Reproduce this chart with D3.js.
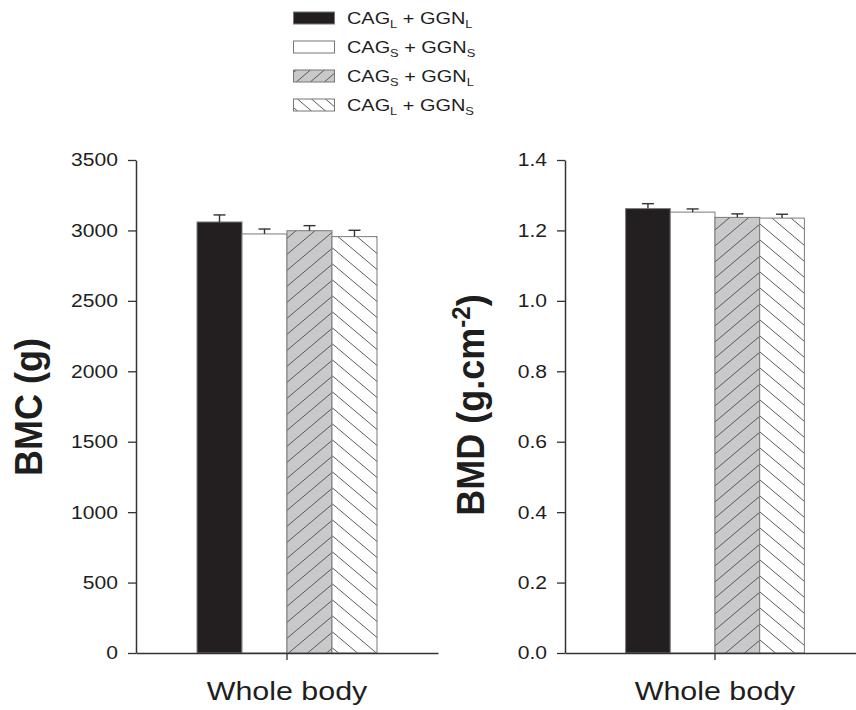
<!DOCTYPE html>
<html>
<head>
<meta charset="utf-8">
<script src="https://cdn.jsdelivr.net/npm/d3@7"></script>
<style>
  html, body { margin: 0; padding: 0; background: #fff; }
  svg { display: block; }
  text { font-family: "Liberation Sans", Arial, Helvetica, sans-serif; fill: #1e1e1e; }
</style>
</head>
<body>
<svg id="chart" width="856" height="710"></svg>
<script>
// Genotype groups (CAG / GGN repeat lengths, L = long, S = short)
const seriesKeys = ["LL", "SS", "SL", "LS"];
const seriesCAG  = ["L", "S", "S", "L"];
const seriesGGN  = ["L", "S", "L", "S"];
const categories = ["Whole body"];

// Bone mineral content (g), mean and SEM
const bmcValues = [3060, 2975, 2998, 2956];
const bmcErrors = [50, 35, 36, 45];
// Bone mineral density (g.cm-2), mean and SEM
const bmdValues = [1.262, 1.252, 1.237, 1.235];
const bmdErrors = [0.014, 0.009, 0.010, 0.011];

const bmcTicks = [0, 500, 1000, 1500, 2000, 2500, 3000, 3500];
const bmdTicks = [0, 0.2, 0.4, 0.6, 0.8, 1.0, 1.2, 1.4];

const SX = 1.17;              // horizontal text stretch
const svg = d3.select("#chart");
const defs = svg.append("defs");

// hatch patterns: "/" on grey and "\" on white
function hatch(id, dir, bg, w, h) {
  const p = defs.append("pattern").attr("id", id)
    .attr("patternUnits", "userSpaceOnUse").attr("width", w).attr("height", h);
  p.append("rect").attr("width", w).attr("height", h).attr("fill", bg);
  const d = dir === "fwd"
    ? `M0,${h} L${w},0 M${-w/4},${h/4} L${w/4},${-h/4} M${3*w/4},${5*h/4} L${5*w/4},${3*h/4}`
    : `M0,0 L${w},${h} M${-w/4},${3*h/4} L${w/4},${5*h/4} M${3*w/4},${-h/4} L${5*w/4},${h/4}`;
  p.append("path").attr("d", d).attr("stroke", "#4a4a4a").attr("stroke-width", 0.9).attr("fill", "none");
}
hatch("fwdBar", "fwd", "#c9c9cb", 19, 16);
hatch("bwdBar", "bwd", "#ffffff", 19, 16);
hatch("fwdLeg", "fwd", "#c9c9cb", 14, 12);
hatch("bwdLeg", "bwd", "#ffffff", 14, 12);

const fillBar = { LL: "#231f20", SS: "#ffffff", SL: "url(#fwdBar)", LS: "url(#bwdBar)" };
const fillLeg = { LL: "#231f20", SS: "#ffffff", SL: "url(#fwdLeg)", LS: "url(#bwdLeg)" };

// Legend
const legend = svg.append("g");
const legendRows = [18, 47, 76, 105];
seriesKeys.forEach((k, i) => {
  const cy = legendRows[i];
  legend.append("rect").attr("x", 293.5).attr("y", cy - 6).attr("width", 41).attr("height", 12)
    .attr("fill", fillLeg[k]).attr("stroke", "#777").attr("stroke-width", 1);
  const t = legend.append("g").attr("transform", `translate(347,${cy + 5.5}) scale(${SX},1)`)
    .append("text").attr("font-size", 17);
  t.append("tspan").text("CAG");
  t.append("tspan").attr("font-size", 11).attr("dy", 4).text(seriesCAG[i]);
  t.append("tspan").attr("dy", -4).text(" + GGN");
  t.append("tspan").attr("font-size", 11).attr("dy", 4).text(seriesGGN[i]);
});

const yTop = 160, yBottom = 653;

function panel(opts) {
  const g = svg.append("g");
  const y = d3.scaleLinear().domain(opts.domain).range([yBottom, yTop]);
  const x0 = d3.scaleBand().domain(categories).range([opts.left, opts.right])
    .paddingInner(0).paddingOuter(0.339);
  const x1 = d3.scaleBand().domain(seriesKeys).range([0, x0.bandwidth()]);

  // bars
  const data = seriesKeys.map((k, i) => ({ key: k, cat: categories[0], v: opts.values[i], e: opts.errors[i] }));
  g.selectAll("rect.bar").data(data).join("rect").attr("class", "bar")
    .attr("x", d => x0(d.cat) + x1(d.key))
    .attr("width", x1.bandwidth())
    .attr("y", d => y(d.v))
    .attr("height", d => y(0) - y(d.v))
    .attr("fill", d => fillBar[d.key])
    .attr("stroke", "#7a7a7a").attr("stroke-width", 1);

  // upper error bars
  const eb = g.selectAll("g.err").data(data).join("g").attr("class", "err")
    .attr("stroke", "#333").attr("stroke-width", 1.4);
  eb.append("line")
    .attr("x1", d => x0(d.cat) + x1(d.key) + x1.bandwidth() / 2)
    .attr("x2", d => x0(d.cat) + x1(d.key) + x1.bandwidth() / 2)
    .attr("y1", d => y(d.v)).attr("y2", d => y(d.v + d.e));
  eb.append("line")
    .attr("x1", d => x0(d.cat) + x1(d.key) + x1.bandwidth() / 2 - 6)
    .attr("x2", d => x0(d.cat) + x1(d.key) + x1.bandwidth() / 2 + 6)
    .attr("y1", d => y(d.v + d.e)).attr("y2", d => y(d.v + d.e));

  // y axis
  const ya = g.append("g").attr("transform", `translate(${opts.left},0)`)
    .call(d3.axisLeft(y).tickValues(opts.ticks).tickFormat(opts.format).tickSize(8).tickSizeOuter(0).tickPadding(10));
  ya.select(".domain").attr("stroke", "#333").attr("stroke-width", 1.5);
  ya.selectAll(".tick line").attr("stroke", "#333").attr("stroke-width", 1.3);
  ya.selectAll(".tick text")
    .attr("font-size", 18.5).attr("font-family", null).attr("fill", "#1e1e1e")
    .attr("x", -18 / 1.14).attr("transform", `scale(1.14,1)`);

  // x axis
  const xa = g.append("g").attr("transform", `translate(0,${yBottom})`)
    .call(d3.axisBottom(x0).tickSize(7).tickSizeOuter(0).tickPadding(0));
  xa.select(".domain").attr("stroke", "#333").attr("stroke-width", 1.5);
  xa.selectAll(".tick line").attr("stroke", "#333").attr("stroke-width", 1.3);
  xa.selectAll(".tick text")
    .attr("font-size", 26).attr("font-family", null).attr("fill", "#1e1e1e")
    .attr("y", 0).attr("dy", null)
    .attr("transform", `translate(0,47) scale(${SX},1)`);

  // y title (rotated, bold)
  const tt = g.append("g").attr("transform", `translate(${opts.titleX},${opts.titleY}) scale(1.08,1) rotate(-90)`)
    .append("text").attr("text-anchor", "middle").attr("font-size", 36).attr("font-weight", "bold");
  opts.title(tt);
}

panel({
  left: 136, right: 438, domain: [0, 3500], ticks: bmcTicks, format: d3.format("d"),
  values: bmcValues, errors: bmcErrors, titleX: 42, titleY: 407,
  title: t => t.text("BMC (g)")
});

panel({
  left: 565, right: 865, domain: [0, 1.4], ticks: bmdTicks, format: d3.format(".1f"),
  values: bmdValues, errors: bmdErrors, titleX: 484, titleY: 405,
  title: t => {
    t.append("tspan").text("BMD (g.cm");
    t.append("tspan").attr("font-size", 24).attr("dy", -13).text("-2");
    t.append("tspan").attr("dy", 13).text(")");
  }
});
</script>
</body>
</html>
